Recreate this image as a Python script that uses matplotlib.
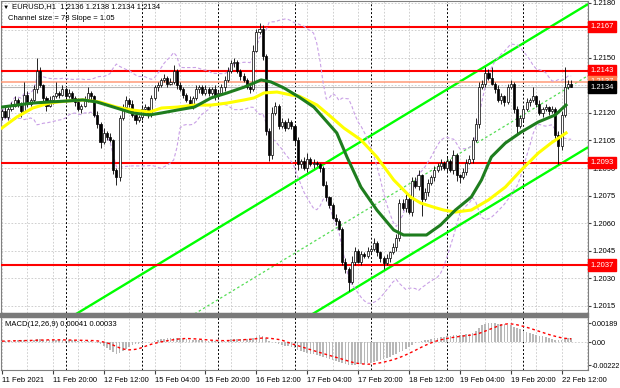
import numpy as np
import pandas as pd
import matplotlib
matplotlib.use("Agg")
import matplotlib.pyplot as plt
import matplotlib.transforms as mtransforms
from matplotlib.patches import Rectangle

plt.rcParams['font.family'] = ['Liberation Sans', 'DejaVu Sans']
plt.rcParams['font.size'] = 5.5

# EURUSD H1, bar 0 = 11 Feb 04:00
closes = [
    1.2121, 1.2118, 1.2122, 1.2124, 1.2127, 1.2125, 1.2121, 1.2130, 1.2125, 1.2127,
    1.2133, 1.2143, 1.2135, 1.2128, 1.2124, 1.2127, 1.2129, 1.2131, 1.2130, 1.2133,
    1.2129, 1.2131, 1.2128, 1.2126, 1.2122, 1.2124, 1.2127, 1.2131, 1.2129, 1.2119,
    1.2114, 1.2104, 1.2109, 1.2107, 1.2105, 1.2089, 1.2085, 1.2117, 1.2123, 1.2127,
    1.2125, 1.2119, 1.2116, 1.2118, 1.2122, 1.2123, 1.2119, 1.2128, 1.2134, 1.2135,
    1.2138, 1.2139, 1.2136, 1.2137, 1.2143, 1.2135, 1.2133, 1.2130, 1.2127, 1.2125,
    1.2128, 1.2133, 1.2134, 1.2131, 1.2133, 1.2131, 1.2133, 1.2129, 1.2131, 1.2134,
    1.2138, 1.2143, 1.2147, 1.2148, 1.2143, 1.2140, 1.2138, 1.2134, 1.2133, 1.2154,
    1.2164, 1.2166, 1.2151, 1.2110, 1.2097, 1.2120, 1.2124, 1.2113, 1.2115, 1.2112,
    1.2115, 1.2113, 1.2105, 1.2092, 1.2094, 1.2090, 1.2095, 1.2092, 1.2093, 1.2092,
    1.2090, 1.2081, 1.2074, 1.2070, 1.2063, 1.2061, 1.2057, 1.2039, 1.2035, 1.2028,
    1.2039, 1.2045, 1.2039, 1.2043, 1.2042, 1.2045, 1.2046, 1.2049, 1.2044, 1.2041,
    1.2038, 1.2041, 1.2044, 1.2047, 1.2052, 1.2071, 1.2068, 1.2073, 1.2066, 1.2083,
    1.2080, 1.2086, 1.2073, 1.2077, 1.2082, 1.2085, 1.2089, 1.2091, 1.2093, 1.2090,
    1.2094, 1.2089, 1.2097, 1.2086, 1.2085, 1.2088, 1.2093, 1.2095, 1.2105, 1.2114,
    1.2134, 1.2136, 1.2142, 1.2139, 1.2136, 1.2133, 1.2127, 1.2129, 1.2126, 1.2134,
    1.2136, 1.2122, 1.2113, 1.2117, 1.2122, 1.2126, 1.2127, 1.2129, 1.2125, 1.2120,
    1.2122, 1.2123, 1.2121, 1.2122, 1.2108, 1.2102, 1.2119, 1.2134, 1.2136, 1.2134,
]
first_open = 1.2118

# wick lengths in pips above / below the body
upper_wick = [
    1, 2, 1, 2, 2, 1, 1, 7, 2, 1, 2, 7, 2, 1, 1, 2, 1, 6, 1, 2,
    1, 2, 1, 1, 2, 1, 2, 3, 1, 1, 2, 1, 3, 1, 2, 1, 1, 2, 2, 2,
    1, 2, 1, 1, 2, 2, 1, 2, 1, 2, 1, 2, 1, 2, 3, 1, 2, 1, 1, 2,
    1, 2, 1, 1, 2, 1, 1, 2, 1, 2, 2, 2, 2, 2, 1, 1, 2, 1, 2, 3,
    2, 3, 2, 1, 2, 3, 2, 1, 2, 1, 2, 1, 1, 2, 1, 2, 3, 1, 2, 1,
    1, 1, 2, 1, 1, 2, 1, 1, 2, 1, 3, 2, 1, 2, 1, 2, 1, 3, 1, 1,
    1, 2, 1, 2, 2, 2, 2, 3, 1, 2, 2, 3, 1, 2, 2, 1, 2, 2, 2, 1,
    2, 1, 3, 1, 1, 2, 2, 2, 2, 3, 3, 2, 3, 2, 6, 1, 2, 2, 1, 2,
    2, 1, 2, 2, 2, 2, 1, 5, 1, 2, 1, 2, 1, 2, 1, 2, 2, 11, 2, 2,
]
lower_wick = [
    2, 1, 2, 1, 1, 2, 3, 1, 2, 1, 1, 2, 1, 2, 3, 1, 2, 1, 2, 1,
    2, 1, 1, 2, 1, 2, 1, 1, 2, 1, 2, 3, 1, 2, 1, 2, 4, 2, 1, 1,
    2, 1, 2, 1, 2, 1, 2, 1, 1, 2, 1, 1, 2, 1, 1, 2, 1, 2, 1, 2,
    3, 1, 2, 1, 1, 2, 1, 2, 1, 1, 2, 1, 1, 2, 1, 2, 1, 1, 2, 1,
    1, 1, 2, 2, 3, 2, 1, 2, 1, 2, 1, 2, 2, 3, 2, 1, 2, 1, 2, 1,
    2, 1, 2, 2, 1, 2, 1, 2, 2, 5, 1, 2, 1, 2, 1, 1, 2, 1, 2, 2,
    3, 1, 2, 1, 2, 2, 1, 2, 1, 2, 1, 2, 9, 1, 2, 1, 2, 1, 2, 1,
    2, 1, 2, 3, 3, 1, 2, 1, 2, 1, 2, 1, 2, 1, 1, 2, 1, 2, 2, 1,
    1, 2, 5, 1, 2, 1, 2, 1, 2, 1, 2, 1, 2, 1, 2, 10, 2, 1, 1, 0,
]

# MACD main line (histogram), in units of 1e-5
macd_e5 = [
    12, 14, 15, 17, 19, 20, 19, 22, 21, 22,
    25, 30, 29, 26, 23, 22, 22, 23, 23, 24,
    23, 23, 22, 20, 17, 16, 16, 17, 16, 8,
    -2, -20, -40, -55, -70, -95, -110, -100, -80, -60,
    -45, -30, -20, -12, -5, 0, 3, 8, 15, 22,
    30, 35, 38, 40, 45, 44, 40, 36, 30, 26,
    22, 20, 20, 19, 18, 17, 16, 14, 14, 15,
    18, 24, 30, 35, 36, 34, 32, 30, 28, 40,
    55, 68, 62, 40, 10, 0, -5, -15, -25, -32,
    -38, -44, -55, -72, -85, -98, -105, -112, -118, -124,
    -130, -142, -155, -165, -176, -185, -193, -205, -214, -222,
    -222, -218, -215, -212, -208, -203, -198, -190, -183, -172,
    -160, -150, -140, -128, -115, -95, -80, -62, -45, -25,
    -8, 5, 12, 20, 28, 35, 40, 45, 50, 55,
    60, 63, 68, 72, 74, 76, 78, 80, 90, 110,
    140, 165, 182, 189, 188, 186, 184, 182, 178, 172,
    166, 150, 138, 126, 115, 104, 94, 85, 76, 67,
    58, 50, 42, 35, 28, 22, 24, 33, 38, 41,
]

# moving averages (bar index, price)
green_bars = [0, 4.7, 9.7, 15, 20.4, 25.4, 29.8, 36, 41, 46.4, 50.2, 55.2, 60.5, 65.8,
              70.8, 76.2, 81.5, 84.6, 88.7, 93.4, 98.1, 105.3, 108.5, 112.9, 117.9,
              123.2, 126.3, 133.5, 137.9, 142.6, 147.6, 150.8, 153.9, 158.3, 163.3,
              168.7, 174, 177.4]
green_vals = [1.21232, 1.21243, 1.21254, 1.21260, 1.21265, 1.21271, 1.21260, 1.21227,
              1.21200, 1.21189, 1.21200, 1.21216, 1.21232, 1.21282, 1.21309, 1.21341,
              1.21380, 1.21369, 1.21336, 1.21287, 1.21232, 1.21091, 1.20960, 1.20796,
              1.20671, 1.20562, 1.20535, 1.20535, 1.20589, 1.20671, 1.20742, 1.20835,
              1.20960, 1.21036, 1.21096, 1.21151, 1.21189, 1.21243]
yellow_bars = [0, 4.7, 9.7, 15, 20.4, 25.4, 30.7, 36, 41, 46.4, 50.2, 55.2, 60.5, 65.8,
               70.8, 76.2, 79.3, 82.4, 86.5, 90.9, 93.4, 99.1, 102.8, 107.5, 112.9,
               117.9, 123.2, 128.5, 131.7, 135.7, 138.9, 142.6, 147.6, 153, 158.3,
               163.3, 168.7, 172.7, 177.4]
yellow_vals = [1.21118, 1.21178, 1.21227, 1.21254, 1.21265, 1.21271, 1.21260, 1.21232,
               1.21216, 1.21205, 1.21227, 1.21232, 1.21243, 1.21243, 1.21254, 1.21271,
               1.21282, 1.21309, 1.21314, 1.21298, 1.21292, 1.21243, 1.21189, 1.21118,
               1.21053, 1.20960, 1.20835, 1.20742, 1.20709, 1.20687, 1.20671, 1.20660,
               1.20671, 1.20726, 1.20796, 1.20889, 1.20982, 1.21036, 1.21091]

levels = [1.2167, 1.2143, 1.2093, 1.2037]
orange_level = 1.2137
last_price = 1.2134

chan_bars = [0, 184]
chan_lower = [1.1908, 1.2101]
chan_size = 0.0078

price_ticks = [1.2015, 1.2030, 1.2045, 1.2060, 1.2075, 1.2090, 1.2105,
               1.2120, 1.2135, 1.2150, 1.2165, 1.2180]
date_bars = [0, 16, 32, 48, 64, 80, 96, 112, 128, 144, 160, 176]
date_labels = ["11 Feb 2021", "11 Feb 20:00", "12 Feb 12:00", "15 Feb 04:00",
               "15 Feb 20:00", "16 Feb 12:00", "17 Feb 04:00", "17 Feb 20:00",
               "18 Feb 12:00", "19 Feb 04:00", "19 Feb 20:00", "22 Feb 12:00"]
day_breaks = [20, 44, 68, 92, 116, 140, 164]
macd_ticks = [-0.00222, 0.0, 0.00189]
macd_tick_labels = ["-0.00222", "0.00", "0.00189"]

# ---- derived series ----
n = len(closes)
x = np.arange(n)
c = np.array(closes)
o = np.array([first_open] + closes[:-1])
hi = np.maximum(o, c) + np.array(upper_wick) * 0.0001
lo = np.minimum(o, c) - np.array(lower_wick) * 0.0001

s = pd.Series(closes)
bb_mid = s.rolling(20, min_periods=1).mean()
bb_sd = s.rolling(20, min_periods=1).std(ddof=0)
bb_up = bb_mid + 2 * bb_sd
bb_lo = bb_mid - 2 * bb_sd

macd = pd.Series(macd_e5) * 1e-5
signal = macd.rolling(9, min_periods=1).mean()

# ---- figure ----
W, H = 620, 388
fig = plt.figure(figsize=(W / 100, H / 100), dpi=100)
ax = fig.add_axes([1 / W, 1 - 313 / H, 587 / W, 312 / H])
mx = fig.add_axes([1 / W, 1 - 370 / H, 587 / W, 53 / H])

xlim = (-0.3, 184.3)
grid_kw = dict(color='#c8c8c8', lw=0.6, ls=(0, (2, 2)), zorder=1)
sep_kw = dict(color='black', lw=0.7, ls=(0, (2, 2)), zorder=2)

for a in (ax, mx):
    a.set_xlim(*xlim)
    for g in range(0, 185, 8):
        a.axvline(g, **grid_kw)
    for d in day_breaks:
        a.axvline(d, **sep_kw)
    for sp in a.spines.values():
        sp.set_color('#808080')
        sp.set_linewidth(0.8)
    a.yaxis.tick_right()
    a.tick_params(axis='y', direction='out', length=2, pad=1.5, labelsize=5.5, color='#404040')

# main panel
ax.set_ylim(1.2011, 1.2181)
for p in price_ticks:
    ax.axhline(p, **grid_kw)

# channel
cl = np.array(chan_lower)
ax.plot(chan_bars, cl, color='#00ff00', lw=1.7, zorder=3)
ax.plot(chan_bars, cl + chan_size, color='#00ff00', lw=1.7, zorder=3)
ax.plot(chan_bars, cl + chan_size / 2, color='#55dd55', lw=0.9, ls=(0, (2, 2)), zorder=3)

# levels
ax.axhline(last_price, color='#b8b8b8', lw=0.8, zorder=2)
ax.axhline(orange_level, color='#ff9a78', lw=1.1, zorder=3)
for lv in levels:
    ax.axhline(lv, color='#ff0000', lw=1.5, zorder=3)

# bollinger bands
ax.plot(x, bb_up, color='#c9a0e6', lw=0.8, ls=(0, (3, 2)), zorder=3)
ax.plot(x, bb_lo, color='#c9a0e6', lw=0.8, ls=(0, (3, 2)), zorder=3)

# candles
ax.vlines(x, lo, hi, color='black', lw=0.6, zorder=4)
body_h = np.maximum(np.abs(c - o), 0.00003)
fill = ['white' if cc >= oo else 'black' for oo, cc in zip(o, c)]
ax.bar(x, body_h, bottom=np.minimum(o, c), width=0.65, color=fill,
       edgecolor='black', linewidth=0.5, zorder=5)

# moving averages
ax.plot(yellow_bars, yellow_vals, color='#ffff00', lw=2.2, zorder=6)
ax.plot(green_bars, green_vals, color='#1e7d1e', lw=2.2, zorder=6)

ax.set_yticks(price_ticks)
ax.set_yticklabels([f"{p:.4f}" for p in price_ticks])
ax.set_xticks([])

trans = mtransforms.blended_transform_factory(ax.transAxes, ax.transData)
box_x = 1.004
for lv in levels:
    ax.text(box_x, lv, f"{lv:.4f}", transform=trans, color='white', va='center', ha='left',
            fontsize=5.5, clip_on=False, zorder=20,
            bbox=dict(boxstyle='square,pad=0.3', fc='#ff0000', ec='#ff0000'))
ax.text(box_x, orange_level, f"{orange_level:.4f}", transform=trans, color='white', va='center',
        ha='left', fontsize=5.5, clip_on=False, zorder=20,
        bbox=dict(boxstyle='square,pad=0.3', fc='#ff7f50', ec='#ff7f50'))
ax.text(box_x, last_price, f"{last_price:.4f}", transform=trans, color='white', va='center',
        ha='left', fontsize=5.5, clip_on=False, zorder=21,
        bbox=dict(boxstyle='square,pad=0.3', fc='black', ec='black'))

fig.text(3 / W, 1 - 7 / H, "\u25bc", fontsize=4.5, va='center', ha='left')
fig.text(12 / W, 1 - 7 / H, "EURUSD,H1  1.2136 1.2138 1.2134 1.2134", fontsize=5.5,
         va='center', ha='left')
fig.text(8 / W, 1 - 19 / H, "Channel size = 78 Slope = 1.05", fontsize=5.5,
         va='center', ha='left')

# separator between windows
fig.patches.append(Rectangle((0, 1 - 317 / H), 588 / W, 4 / H, transform=fig.transFigure,
                             color='#7a7a7a', zorder=10))

# MACD panel
mx.set_ylim(-0.0027, 0.00248)
mx.axhline(0, **grid_kw)
mx.bar(x, macd, width=0.5, color='#b8b8b8', zorder=3)
mx.plot(x, signal, color='#ff0000', lw=1.0, ls=(0, (2, 2)), zorder=4)
mx.set_yticks(macd_ticks)
mx.set_yticklabels(macd_tick_labels)
mx.tick_params(axis='y', pad=1, labelsize=5.2)
mx.set_xticks(date_bars)
mx.set_xticklabels(date_labels, ha='left')
mx.tick_params(axis='x', direction='out', length=3, pad=2, labelsize=5.5, color='#404040')
fig.text(5 / W, 1 - 325 / H, "MACD(12,26,9) 0.00041 0.00033", fontsize=5.5,
         va='center', ha='left')

fig.savefig("out.png", dpi=100)
